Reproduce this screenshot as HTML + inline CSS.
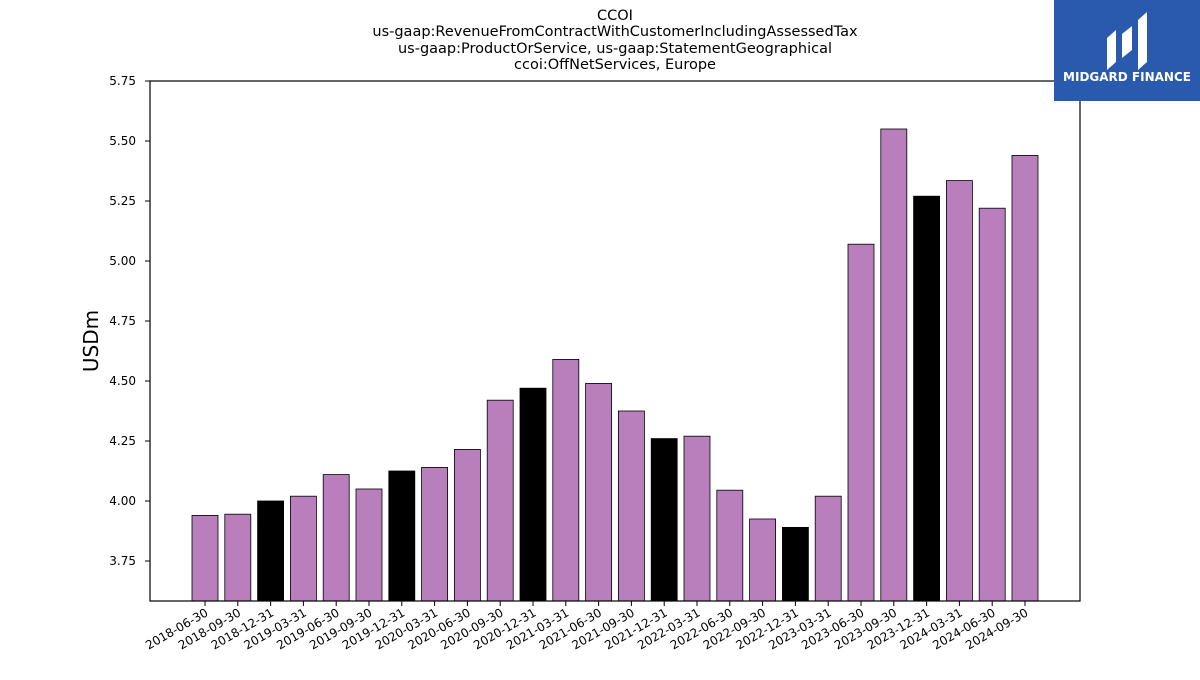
<!DOCTYPE html>
<html><head><meta charset="utf-8"><style>
body{margin:0;background:#fff;font-family:"Liberation Sans","DejaVu Sans",sans-serif}
svg text{font-family:"DejaVu Sans","Liberation Sans",sans-serif}
</style></head><body>
<svg id="chart" width="1200" height="675" viewBox="0 0 1200 675" xmlns="http://www.w3.org/2000/svg">
<g font-size="14.5" text-anchor="middle" fill="#000">
<text x="615" y="20">CCOI</text>
<text x="615" y="36">us-gaap:RevenueFromContractWithCustomerIncludingAssessedTax</text>
<text x="615" y="53">us-gaap:ProductOrService, us-gaap:StatementGeographical</text>
<text x="615" y="69">ccoi:OffNetServices, Europe</text>
</g>
<g id="bars"></g>
<g id="yaxis"></g>
<g id="xaxis"></g>
<rect x="150" y="81" width="930" height="520" fill="none" stroke="#000" stroke-width="1.2"/>
<text transform="translate(98,341) rotate(-90)" text-anchor="middle" font-size="20">USDm</text>
<g>
<rect x="1054" y="0" width="146" height="101" fill="#2a5aad"/>
<path d="M1107 70 L1107 38 L1116 30 L1116 62 Z M1122 58 L1122 34 L1132 26 L1132 50 Z M1138 70 L1138 20 L1147 12 L1147 62 Z" fill="#fff"/>
<text x="1127" y="81" text-anchor="middle" font-size="12" font-weight="bold" fill="#fff">MIDGARD FINANCE</text>
</g>
</svg>
<script>
const categories=["2018-06-30","2018-09-30","2018-12-31","2019-03-31","2019-06-30","2019-09-30","2019-12-31","2020-03-31","2020-06-30","2020-09-30","2020-12-31","2021-03-31","2021-06-30","2021-09-30","2021-12-31","2022-03-31","2022-06-30","2022-09-30","2022-12-31","2023-03-31","2023-06-30","2023-09-30","2023-12-31","2024-03-31","2024-06-30","2024-09-30"];
const values=[3.94,3.945,4.00,4.02,4.11,4.05,4.125,4.14,4.215,4.42,4.47,4.59,4.49,4.375,4.26,4.27,4.045,3.925,3.89,4.02,5.07,5.55,5.27,5.335,5.22,5.44];
const yTicks=["3.75","4.00","4.25","4.50","4.75","5.00","5.25","5.50","5.75"];
const NS="http://www.w3.org/2000/svg";
const yMin=3.5833,yMax=5.75,plotTop=81,plotBot=601;
function yScale(v){return plotBot-(v-yMin)/(yMax-yMin)*(plotBot-plotTop);}
function xScale(i){return 205+i*(1025-205)/(categories.length-1);}
const bw=26;
const bars=document.getElementById('bars'),xa=document.getElementById('xaxis'),ya=document.getElementById('yaxis');
categories.forEach((c,i)=>{
 const r=document.createElementNS(NS,'rect');
 
 
 const y=yScale(values[i]);
 r.setAttribute('x',xScale(i)-bw/2);r.setAttribute('y',y);
 r.setAttribute('width',bw);r.setAttribute('height',plotBot-y);
 r.setAttribute('fill',c.endsWith('12-31')?'#000':'#b97fbd');
 r.setAttribute('stroke','#000');r.setAttribute('stroke-width','0.8');
 bars.appendChild(r);
 const t=document.createElementNS(NS,'line');
 
 
 t.setAttribute('x1',xScale(i));t.setAttribute('x2',xScale(i));t.setAttribute('y1',plotBot);t.setAttribute('y2',plotBot+5);t.setAttribute('stroke','#000');
 xa.appendChild(t);
 const l=document.createElementNS(NS,'text');
 
 
 l.setAttribute('font-size','12');l.setAttribute('text-anchor','end');
 l.setAttribute('transform','translate('+(xScale(i)+4)+','+(plotBot+14)+') rotate(-30)');
 l.textContent=c;xa.appendChild(l);
});
yTicks.forEach(s=>{
 const y=yScale(parseFloat(s));
 const t=document.createElementNS(NS,'line');
 
 
 t.setAttribute('x1',145);t.setAttribute('x2',150);t.setAttribute('y1',y);t.setAttribute('y2',y);t.setAttribute('stroke','#000');
 ya.appendChild(t);
 const l=document.createElementNS(NS,'text');
 
 
 l.setAttribute('font-size','12');l.setAttribute('text-anchor','end');
 l.setAttribute('x',136);l.setAttribute('y',y+4);
 l.textContent=s;ya.appendChild(l);
});
</script>
</body></html>
